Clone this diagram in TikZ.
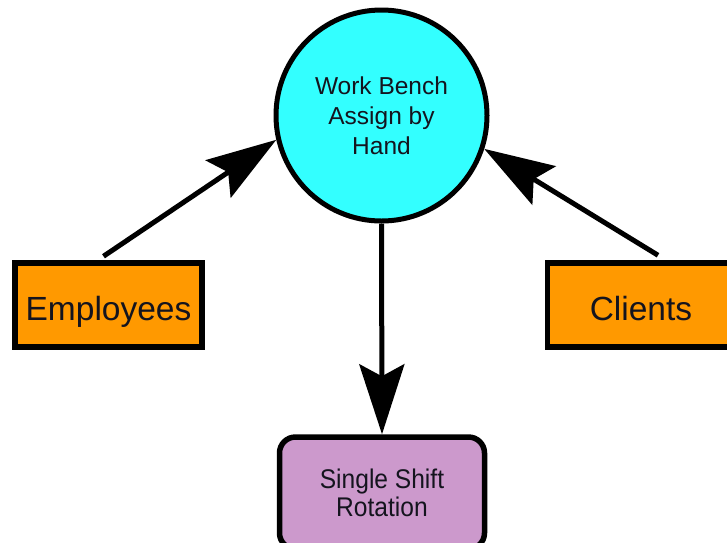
\documentclass[tikz,border=0pt]{standalone}
\usepackage{fontspec}
\setmainfont{Liberation Sans}
\newfontfamily\narrowsans[FakeStretch=0.91]{Liberation Sans}
\usetikzlibrary{arrows.meta}
\definecolor{boxorange}{RGB}{255,153,0}
\definecolor{benchcyan}{RGB}{51,255,255}
\definecolor{shiftpurple}{RGB}{204,153,204}
\definecolor{inkdark}{RGB}{20,20,30}
\tikzset{
  sidebox/.style={draw=black, line width=5.5pt, fill=boxorange, inner sep=0pt,
    minimum width=187pt, minimum height=84pt, text height=31pt, text depth=0pt,
    font=\fontsize{33.5}{36}\selectfont, text=inkdark},
  benchnode/.style={circle, draw=black, line width=5pt, fill=benchcyan,
    minimum size=211pt, inner sep=0pt, align=center,
    font=\fontsize{24.5}{30}\selectfont, text=inkdark},
  shiftbox/.style={draw=black, line width=5.5pt, fill=shiftpurple, rounded corners=16pt,
    minimum width=205pt, minimum height=112pt, align=center,
    font=\narrowsans\fontsize{27}{28}\selectfont, text=inkdark},
  flowarrow/.style={line width=5pt, -{Stealth[length=70pt, width=45pt, inset=12pt]}}
}
\begin{document}
\begin{tikzpicture}[x=1pt, y=-1pt]
  \useasboundingbox (0,0) rectangle (727,542);
  \clip (0,0) rectangle (727,542);
  \fill[white] (0,0) rectangle (727,542);

  % nodes
  \node[benchnode] (bench) at (381.5,115.5) {Work Bench\\Assign by\\Hand};
  \node[sidebox] (emp) at (108.5,305) {Employees};
  \node[sidebox] (cli) at (641,305) {Clients};
  \node[shiftbox] (shift) at (382,493) {Single Shift\\Rotation};

  % connectors
  \draw[flowarrow] ([xshift=-5pt,yshift=4pt]emp.north) -- (bench.193.8);
  \draw[flowarrow] ([xshift=17pt,yshift=5pt]cli.north) -- (bench.342.7);
  \draw[flowarrow] (bench.south) -- (shift.north);
\end{tikzpicture}
\end{document}
